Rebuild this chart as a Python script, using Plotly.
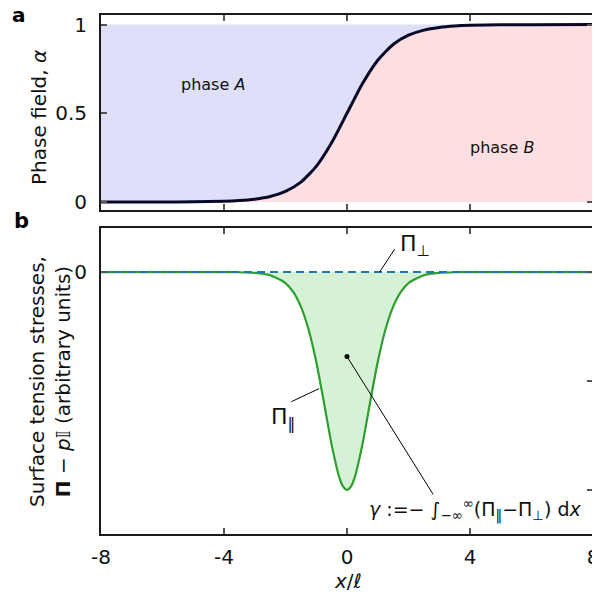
import plotly.graph_objects as go

# ---- data ----
x_alpha = [-8, -6, -5, -4, -3.5, -3, -2.5, -2, -1.5, -1, -0.5, 0,
           0.5, 1, 1.5, 2, 2.5, 3, 3.5, 4, 5, 6, 8]
alpha = [0.0, 0.0003, 0.001, 0.004, 0.008, 0.016, 0.031, 0.060, 0.112, 0.201, 0.334, 0.5,
         0.666, 0.799, 0.888, 0.940, 0.969, 0.984, 0.992, 0.996, 0.999, 0.9997, 1.0]
alpha_top = [1.0] * len(x_alpha)

x_pi = [-8, -5, -4, -3.5, -3, -2.5, -2, -1.75, -1.5, -1.25, -1, -0.75, -0.5, -0.25, -0.125, 0,
        0.125, 0.25, 0.5, 0.75, 1, 1.25, 1.5, 1.75, 2, 2.5, 3, 3.5, 4, 5, 8]
pi_par = [0.0, 0.0, -0.0005, -0.002, -0.008, -0.029, -0.101, -0.182, -0.318, -0.528, -0.824,
          -1.197, -1.584, -1.885, -1.970, -2.0,
          -1.970, -1.885, -1.584, -1.197, -0.824, -0.528, -0.318, -0.182, -0.101, -0.029, -0.008,
          -0.002, -0.0005, 0.0, 0.0]
x_perp = [-8, 8]
pi_perp = [0.0, 0.0]

x_ticks = [-8, -4, 0, 4, 8]
x_ticklabels = ["-8", "-4", "0", "4", "8"]
alpha_ticks = [0, 0.5, 1]
alpha_ticklabels = ["0", "0.5", "1"]

FONT = "DejaVu Sans"
BLUE_FILL = "rgb(223,223,250)"
PINK_FILL = "rgb(254,223,225)"
GREEN_FILL = "rgb(214,242,214)"
GREEN = "rgb(44,160,44)"
DBLUE = "rgb(31,119,180)"
NAVY = "rgb(8,8,40)"
FRAME = "#1a1a1a"
TICKC = "#555555"

fig = go.Figure()

# top panel fills
fig.add_trace(go.Scatter(x=x_alpha, y=alpha, mode="lines", line=dict(width=0, shape="spline", smoothing=0.6),
                         fill="tozeroy", fillcolor=PINK_FILL, xaxis="x", yaxis="y", hoverinfo="skip"))
fig.add_trace(go.Scatter(x=x_alpha, y=alpha_top, mode="lines", line=dict(width=0),
                         xaxis="x", yaxis="y", hoverinfo="skip"))
fig.add_trace(go.Scatter(x=x_alpha, y=alpha, mode="lines", line=dict(width=0, shape="spline", smoothing=0.6),
                         fill="tonexty", fillcolor=BLUE_FILL, xaxis="x", yaxis="y", hoverinfo="skip"))
fig.add_trace(go.Scatter(x=x_alpha, y=alpha, mode="lines",
                         line=dict(width=3, color=NAVY, shape="spline", smoothing=0.6),
                         xaxis="x", yaxis="y"))

# bottom panel
fig.add_trace(go.Scatter(x=x_pi, y=pi_par, mode="lines",
                         line=dict(width=2.2, color=GREEN, shape="spline", smoothing=0.6),
                         fill="tozeroy", fillcolor=GREEN_FILL, xaxis="x2", yaxis="y2"))
fig.add_trace(go.Scatter(x=x_perp, y=pi_perp, mode="lines",
                         line=dict(width=2, color=DBLUE, dash="8px,5px"),
                         xaxis="x2", yaxis="y2"))
# dot of the gamma leader
fig.add_trace(go.Scatter(x=[0], y=[-0.775], mode="markers", marker=dict(size=5, color="black"),
                         xaxis="x2", yaxis="y2"))
# invisible traces to activate right-side tick axes
fig.add_trace(go.Scatter(x=[-8], y=[0], mode="markers", marker=dict(opacity=0),
                         xaxis="x", yaxis="y3", hoverinfo="skip"))
fig.add_trace(go.Scatter(x=[-8], y=[0], mode="markers", marker=dict(opacity=0),
                         xaxis="x2", yaxis="y4", hoverinfo="skip"))

common_axis = dict(showgrid=False, zeroline=False, showline=True, linecolor=FRAME, linewidth=2,
                   ticks="inside", ticklen=6, tickwidth=1.5, tickcolor=TICKC, automargin=False,
                   tickfont=dict(family=FONT, size=20, color="#111"))
side_axis = dict(showgrid=False, zeroline=False, showline=False, ticks="inside", ticklen=6,
                 tickwidth=1.5, tickcolor=TICKC, showticklabels=False, automargin=False)

top_range = [-0.045, 1.054]
bot_range = [-2.404, 0.404]

# page body has an 8px margin, so the figure is 592x591 and shifted accordingly
fig.update_layout(
    width=592, height=591,
    margin=dict(l=93, r=7, t=7, b=65),
    paper_bgcolor="white", plot_bgcolor="white",
    showlegend=False,
    xaxis=dict(domain=[0, 1], range=[-8, 8], anchor="y", mirror="ticks",
               tickvals=[-4, 0, 4], showticklabels=False, **common_axis),
    yaxis=dict(domain=[0.6243, 1], range=top_range, anchor="x", mirror=True,
               tickvals=alpha_ticks, ticktext=alpha_ticklabels, ticklabelstandoff=8, **common_axis),
    yaxis3=dict(overlaying="y", side="right", range=top_range, anchor="x", tickvals=[0, 1], **side_axis),
    xaxis2=dict(domain=[0, 1], range=[-8, 8], anchor="y2", mirror="ticks",
                tickvals=x_ticks, ticktext=x_ticklabels, ticklabelstandoff=4, **common_axis),
    yaxis2=dict(domain=[0, 0.5896], range=bot_range, anchor="x2", mirror=True,
                tickvals=[0], ticktext=["0"], ticklabelstandoff=8, **common_axis),
    yaxis4=dict(overlaying="y2", side="right", range=bot_range, anchor="x2", tickvals=[0, -1, -2],
                **side_axis),
)

def A(text, x, y, xref="paper", yref="paper", size=20, angle=0, xanchor="center", bold=False):
    return dict(text=text, x=x, y=y, xref=xref, yref=yref, showarrow=False, textangle=angle,
                xanchor=xanchor, yanchor="middle",
                font=dict(family=FONT, size=size, color="black" if bold else "#111"))

ann = [
    A("<b>a</b>", -0.1667, 0.9995, size=20, bold=True),
    A("<b>b</b>", -0.1626, 0.603, size=21, bold=True),
    A("Phase field, <i>α</i>", -0.126, 0.8015, angle=-90),
    A("Surface tension stresses,<br><b>Π</b> − <i>p</i>𝕀 (arbitrary units)", -0.1037, 0.2948, angle=-90),
    A("<i>x</i>/<i>ℓ</i>", 0.502, -0.0905),
    A("phase <i>A</i>", -4.37, 0.66, "x", "y", size=16),
    A("phase <i>B</i>", 5.05, 0.31, "x", "y", size=16),
    A("Π<sub>⊥</sub>", 2.2, 0.245, "x2", "y2", size=22),
    A("Π<sub>‖</sub>", -2.09, -1.345, "x2", "y2", size=22),
    A("<i>γ</i> :=− ∫<sub>−∞</sub><sup>∞</sup>(Π<sub>‖</sub>−Π<sub>⊥</sub>) d<i>x</i>",
      7.66, -2.18, "x2", "y2", size=19, xanchor="right"),
]
fig.update_layout(annotations=ann)

shapes = [
    dict(type="line", xref="x2", yref="y2", x0=1.55, y0=0.21, x1=1.06, y1=0.0,
         line=dict(color="black", width=1)),
    dict(type="line", xref="x2", yref="y2", x0=-1.81, y0=-1.19, x1=-0.91, y1=-1.07,
         line=dict(color="black", width=1)),
    dict(type="line", xref="x2", yref="y2", x0=0, y0=-0.775, x1=2.8, y1=-2.04,
         line=dict(color="black", width=1)),
]
fig.update_layout(shapes=shapes)

fig.write_html("out.html")
